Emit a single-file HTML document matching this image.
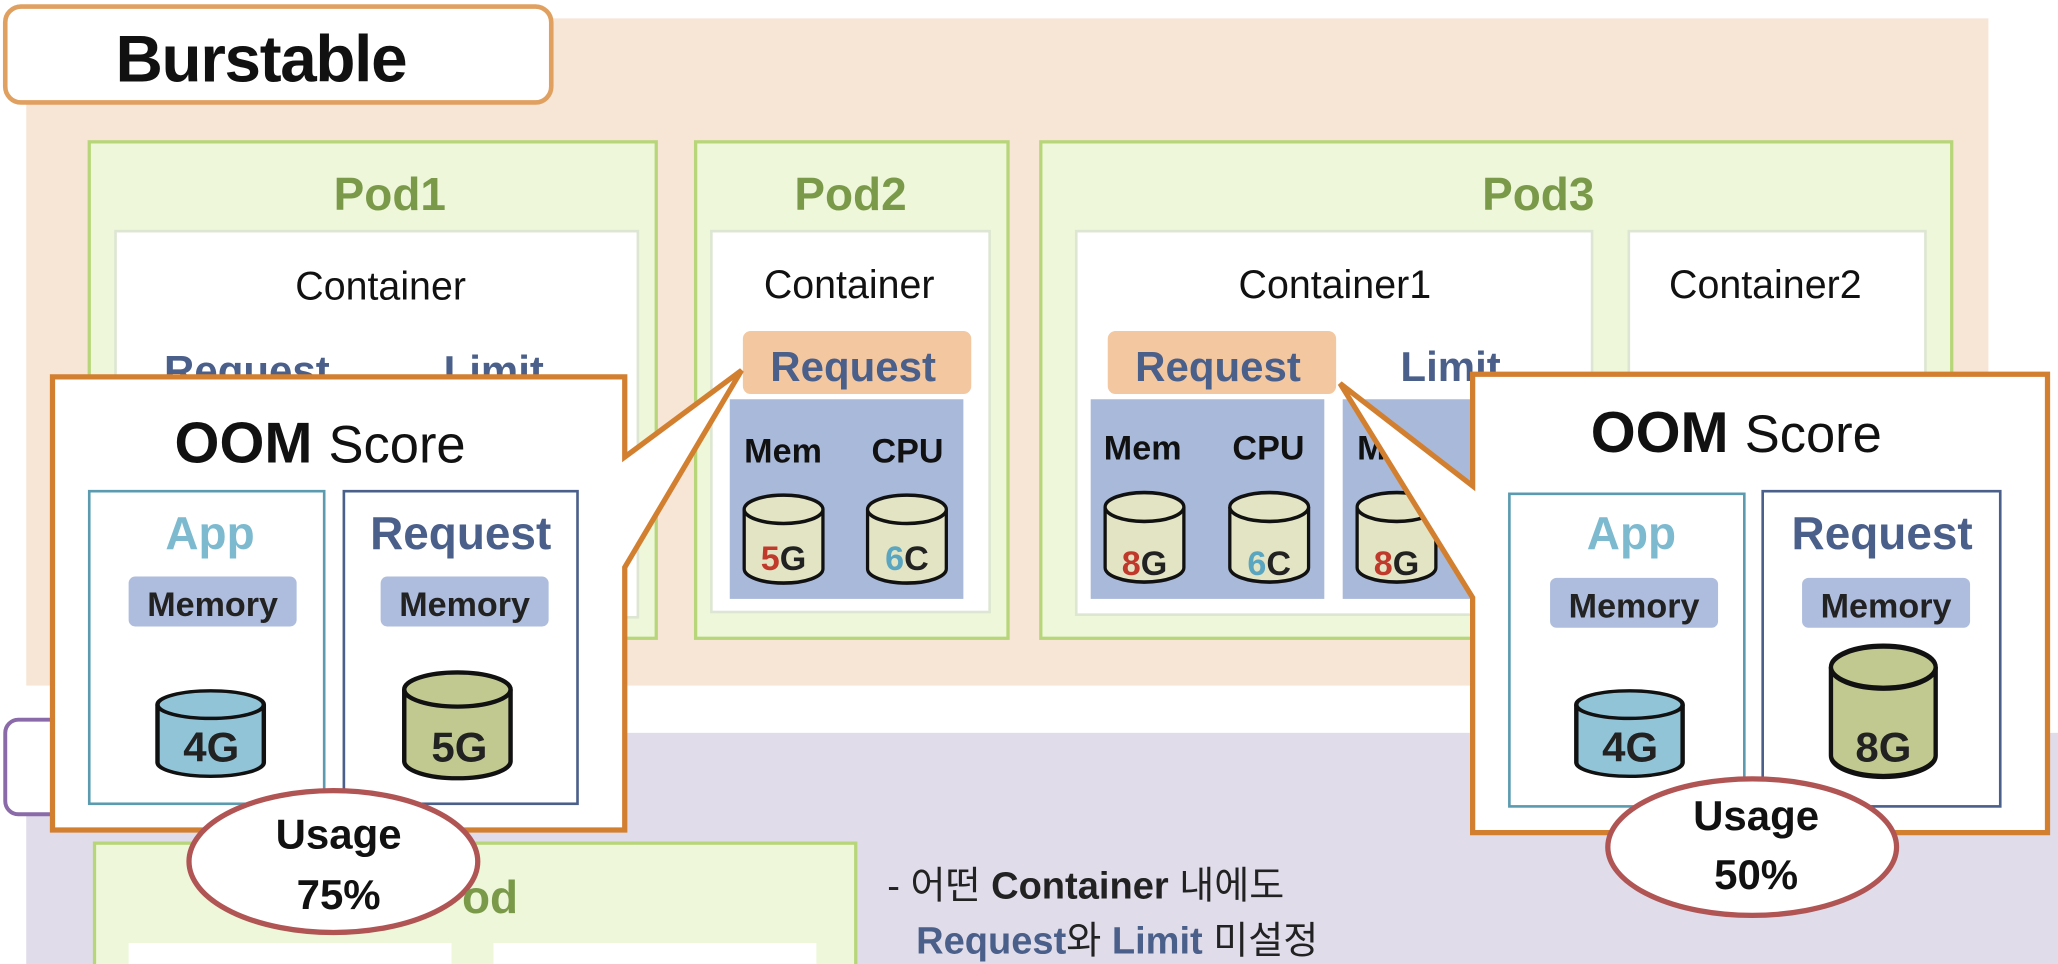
<!DOCTYPE html>
<html><head><meta charset="utf-8"><style>
html,body{margin:0;padding:0;background:#fff;overflow:hidden}
svg{display:block}
text{font-family:"Liberation Sans","Noto Sans CJK KR",sans-serif}
.b{font-weight:bold}
</style></head><body>
<svg width="2058" height="964" viewBox="0 0 1568 734" preserveAspectRatio="none" xmlns="http://www.w3.org/2000/svg">
<defs>
<g id="cyl"><path d="M0,10 L0,52 A30,10 0 0 0 60,52 L60,10" stroke="#111" stroke-width="2.5"/><ellipse cx="30" cy="10" rx="30" ry="10" stroke="#111" stroke-width="2.5"/></g>
</defs>
<rect width="1568" height="734" fill="#fff"/>
<rect x="20" y="14" width="1495" height="508" fill="#f7e5d6"/>
<rect x="20" y="558" width="1548" height="176" fill="#e0dcea"/>
<rect x="4" y="548" width="60" height="72" rx="10" fill="#fff" stroke="#8a6aa8" stroke-width="3"/>
<rect x="4" y="5" width="416" height="73" rx="12" fill="#fff" stroke="#e0a060" stroke-width="3.5"/>
<text x="88" y="62" font-size="50" class="b" fill="#111" letter-spacing="-1">Burstable</text>
<g fill="#eef7d9" stroke="#b7d67a" stroke-width="2.5">
<rect x="68" y="108" width="432" height="378"/>
<rect x="530" y="108" width="238" height="378"/>
<rect x="793" y="108" width="694" height="378"/>
</g>
<g font-size="35" class="b" fill="#7a9a4a" text-anchor="middle">
<text x="297" y="160">Pod1</text><text x="648" y="160">Pod2</text><text x="1172" y="160">Pod3</text>
</g>
<g fill="#fff" stroke="#dde6d2" stroke-width="2">
<rect x="88" y="176" width="398" height="294"/>
<rect x="542" y="176" width="212" height="290"/>
<rect x="820" y="176" width="393" height="292"/>
<rect x="1241" y="176" width="226" height="292"/>
</g>
<g font-size="30" fill="#111" text-anchor="middle">
<text x="290" y="228">Container</text><text x="647" y="227">Container</text>
<text x="1017" y="227">Container1</text><text x="1345" y="227">Container2</text>
</g>
<text x="125" y="293" font-size="32" class="b" fill="#4a5f8a">Request</text>
<text x="338" y="293" font-size="32" class="b" fill="#4a5f8a">Limit</text>
<rect x="566" y="252" width="174" height="48" rx="6" fill="#f3c7a0"/>
<text x="650" y="290" font-size="32" class="b" fill="#4a5f8a" text-anchor="middle">Request</text>
<rect x="556" y="304" width="178" height="152" fill="#a9b9da"/>
<rect x="844" y="252" width="174" height="48" rx="6" fill="#f3c7a0"/>
<text x="928" y="290" font-size="32" class="b" fill="#4a5f8a" text-anchor="middle">Request</text>
<text x="1067" y="290" font-size="32" class="b" fill="#4a5f8a">Limit</text>
<rect x="831" y="304" width="178" height="152" fill="#a9b9da"/>
<rect x="1023" y="304" width="120" height="152" fill="#a9b9da"/>
<g font-size="26" class="b" fill="#111">
<text x="567" y="352">Mem</text><text x="664" y="352">CPU</text>
<text x="841" y="350">Mem</text><text x="939" y="350">CPU</text><text x="1034" y="350">M</text>
</g>
<g fill="#e2e4c4">
<g transform="translate(567,377) scale(1,1.08)"><use href="#cyl"/></g>
<g transform="translate(661,377) scale(1,1.08)"><use href="#cyl"/></g>
<g transform="translate(842,375) scale(1,1.1)"><use href="#cyl"/></g>
<g transform="translate(937,375) scale(1,1.1)"><use href="#cyl"/></g>
<g transform="translate(1034,375) scale(1,1.1)"><use href="#cyl"/></g>
</g>
<g font-size="26" class="b" text-anchor="middle">
<text x="597" y="434"><tspan fill="#c0392b">5</tspan><tspan fill="#222">G</tspan></text>
<text x="691" y="434"><tspan fill="#5aa6c0">6</tspan><tspan fill="#222">C</tspan></text>
<text x="872" y="438"><tspan fill="#c0392b">8</tspan><tspan fill="#222">G</tspan></text>
<text x="967" y="438"><tspan fill="#5aa6c0">6</tspan><tspan fill="#222">C</tspan></text>
<text x="1064" y="438"><tspan fill="#c0392b">8</tspan><tspan fill="#222">G</tspan></text>
</g>
<path d="M40,287 H476 V348 L565,282 L476,432 V632 H40 Z" fill="#fff" stroke="#d27f30" stroke-width="4"/>
<text x="133" y="352" font-size="44" class="b" fill="#111">OOM <tspan font-weight="normal" font-size="40">Score</tspan></text>
<rect x="68" y="374" width="179" height="238" fill="#fff" stroke="#5b9bb0" stroke-width="2"/>
<rect x="262" y="374" width="178" height="238" fill="#fff" stroke="#4a5f8a" stroke-width="2"/>
<text x="160" y="418" font-size="35" class="b" fill="#7dbad0" text-anchor="middle">App</text>
<text x="351" y="418" font-size="35" class="b" fill="#4a5f8a" text-anchor="middle">Request</text>
<rect x="98" y="439" width="128" height="38" rx="5" fill="#aebddd"/>
<rect x="290" y="439" width="128" height="38" rx="5" fill="#aebddd"/>
<g font-size="26" class="b" fill="#222" text-anchor="middle"><text x="162" y="469">Memory</text><text x="354" y="469">Memory</text></g>
<g transform="translate(120,526) scale(1.35,1.05)" fill="#92c4d8"><use href="#cyl"/></g>
<g transform="translate(308,512) scale(1.35,1.3)" fill="#c2c990"><use href="#cyl"/></g>
<g font-size="32" class="b" fill="#222" text-anchor="middle"><text x="161" y="580">4G</text><text x="350" y="580">5G</text></g>
<rect x="72" y="642" width="580" height="100" fill="#eef7d9" stroke="#b7d67a" stroke-width="2.5"/>
<rect x="98" y="718" width="246" height="30" fill="#fff"/><rect x="376" y="718" width="246" height="30" fill="#fff"/>
<ellipse cx="254" cy="656" rx="110" ry="54" fill="#fff" stroke="#b05454" stroke-width="4"/>
<text x="352" y="695" font-size="35" class="b" fill="#7a9a4a">od</text>
<g font-size="32" class="b" fill="#111" text-anchor="middle"><text x="258" y="646">Usage</text><text x="258" y="692">75%</text></g>
<text x="676" y="684" font-size="29" fill="#222">- 어떤 <tspan font-weight="bold">Container</tspan> 내에도</text>
<text x="698" y="726" font-size="29" fill="#222"><tspan font-weight="bold" fill="#4a5f8a">Request</tspan>와 <tspan font-weight="bold" fill="#4a5f8a">Limit</tspan> 미설정</text>
<path d="M1122,285 H1560 V634 H1122 V455 L1021,292 L1122,370 Z" fill="#fff" stroke="#d27f30" stroke-width="4"/>
<text x="1212" y="344" font-size="44" class="b" fill="#111">OOM <tspan font-weight="normal" font-size="40">Score</tspan></text>
<rect x="1150" y="376" width="179" height="238" fill="#fff" stroke="#5b9bb0" stroke-width="2"/>
<rect x="1343" y="374" width="181" height="240" fill="#fff" stroke="#4a5f8a" stroke-width="2"/>
<text x="1243" y="418" font-size="35" class="b" fill="#7dbad0" text-anchor="middle">App</text>
<text x="1434" y="418" font-size="35" class="b" fill="#4a5f8a" text-anchor="middle">Request</text>
<rect x="1181" y="440" width="128" height="38" rx="5" fill="#aebddd"/>
<rect x="1373" y="440" width="128" height="38" rx="5" fill="#aebddd"/>
<g font-size="26" class="b" fill="#222" text-anchor="middle"><text x="1245" y="470">Memory</text><text x="1437" y="470">Memory</text></g>
<g transform="translate(1201,526) scale(1.35,1.05)" fill="#92c4d8"><use href="#cyl"/></g>
<g transform="translate(1395,492) scale(1.33,1.6)" fill="#c2c990"><use href="#cyl"/></g>
<g font-size="32" class="b" fill="#222" text-anchor="middle"><text x="1242" y="580">4G</text><text x="1435" y="580">8G</text></g>
<ellipse cx="1335" cy="645" rx="110" ry="52" fill="#fff" stroke="#b05454" stroke-width="4"/>
<g font-size="32" class="b" fill="#111" text-anchor="middle"><text x="1338" y="632">Usage</text><text x="1338" y="677">50%</text></g>
</svg>
</body></html>
